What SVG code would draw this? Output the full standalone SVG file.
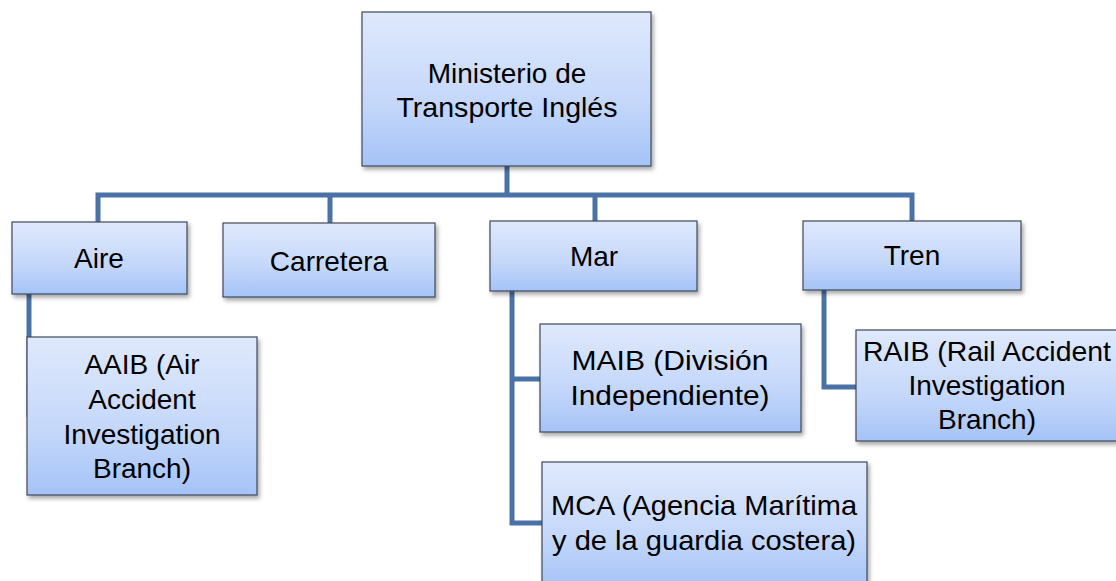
<svg xmlns="http://www.w3.org/2000/svg" width="1116" height="581" viewBox="0 0 1116 581">
<style>
.box{fill:url(#g);stroke:#3f4a5a;stroke-width:1.2;filter:url(#sh)}
.t{font-family:"Liberation Sans",Arial,sans-serif;font-size:28px;fill:#000;text-anchor:middle}
.c{fill:none;stroke:#4a72a6;stroke-width:5;stroke-linejoin:miter}
</style>
<defs>
<linearGradient id="g" x1="0" y1="0" x2="0" y2="1">
<stop offset="0" stop-color="#dfe9fc"/>
<stop offset="0.6" stop-color="#c4d7fa"/>
<stop offset="1" stop-color="#a5c3f7"/>
</linearGradient>
<filter id="sh" x="-10%" y="-10%" width="120%" height="130%">
<feDropShadow dx="2" dy="3" stdDeviation="2" flood-color="#000" flood-opacity="0.35"/>
</filter>
</defs>
<rect width="1116" height="581" fill="#fff"/>
<g id="connectors">
<path class="c" d="M507 166V195M98 222V195H912V222M330 195V223M595 195V221"/>
<path class="c" d="M29 294V417"/>
<path class="c" d="M512 291V523H542M512 379H540"/>
<path class="c" d="M824 290V387H856"/>
</g>
<g id="ministerio"><rect class="box" x="362" y="12" width="289" height="154"/>
<text class="t" x="507" y="83">Ministerio de</text><text class="t" x="507" y="117" textLength="221" lengthAdjust="spacingAndGlyphs">Transporte Inglés</text></g>
<g id="aire"><rect class="box" x="12" y="222" width="175" height="72"/><text class="t" x="99" y="268">Aire</text></g>
<g id="carretera"><rect class="box" x="223" y="223" width="212" height="74"/><text class="t" x="329" y="271">Carretera</text></g>
<g id="mar"><rect class="box" x="490" y="221" width="207" height="70"/><text class="t" x="594" y="266">Mar</text></g>
<g id="tren"><rect class="box" x="803" y="221" width="218" height="69"/><text class="t" x="912" y="265">Tren</text></g>
<g id="aaib"><rect class="box" x="27" y="337" width="230" height="158"/>
<text class="t" x="142" y="374">AAIB (Air</text><text class="t" x="142" y="409">Accident</text><text class="t" x="142" y="444">Investigation</text><text class="t" x="142" y="478">Branch)</text></g>
<g id="maib"><rect class="box" x="540" y="324" width="261" height="108"/>
<text class="t" x="670" y="370" textLength="197" lengthAdjust="spacingAndGlyphs">MAIB (División</text><text class="t" x="670" y="405" textLength="199" lengthAdjust="spacingAndGlyphs">Independiente)</text></g>
<g id="mca"><rect class="box" x="542" y="462" width="325" height="125"/>
<text class="t" x="704" y="515" textLength="306" lengthAdjust="spacingAndGlyphs">MCA (Agencia Marítima</text><text class="t" x="704" y="550" textLength="304" lengthAdjust="spacingAndGlyphs">y de la guardia costera)</text></g>
<g id="raib"><rect class="box" x="856" y="330" width="270" height="111"/>
<text class="t" x="987" y="361" textLength="248" lengthAdjust="spacingAndGlyphs">RAIB (Rail Accident</text><text class="t" x="987" y="395">Investigation</text><text class="t" x="987" y="429">Branch)</text></g>
</svg>
